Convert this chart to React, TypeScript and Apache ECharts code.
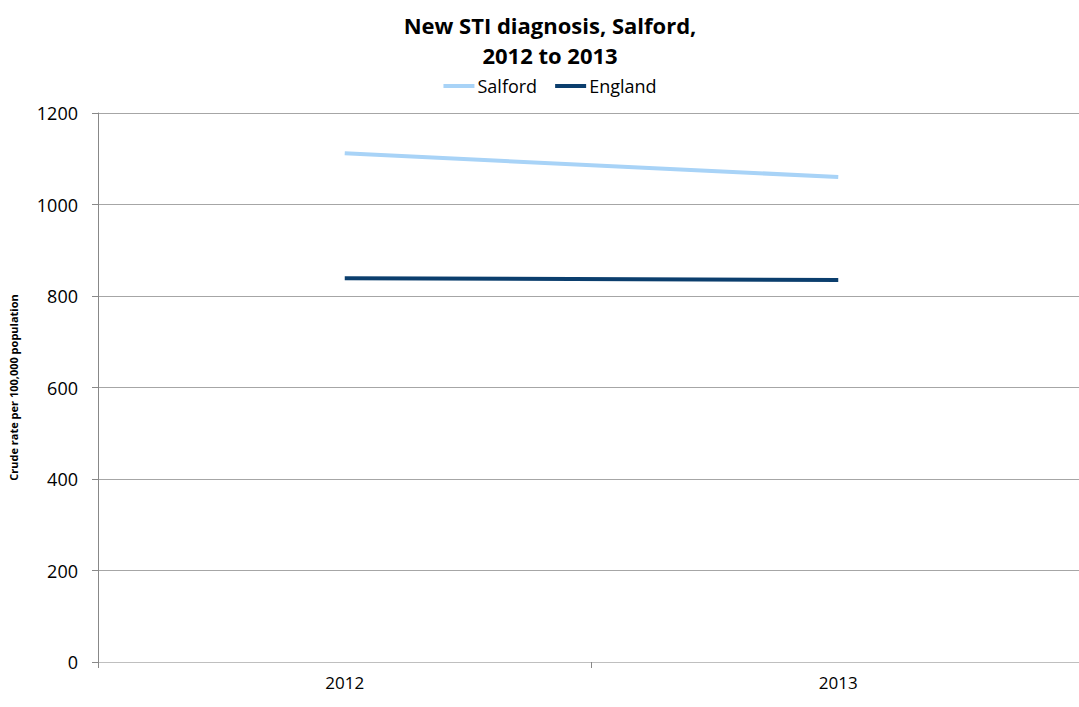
import React, { useEffect, useRef } from "react";
import * as echarts from "echarts";

const categories = ["2012", "2013"];
const salford = [1112, 1060];
const england = [839, 835];
const yTicks = { min: 0, max: 1200, interval: 200 };

export default function App() {
  const ref = useRef<HTMLDivElement>(null);
  useEffect(() => {
    document.body.style.margin = "0";
    document.body.style.overflow = "hidden";
    const chart = echarts.init(ref.current!, null, { renderer: "svg" });
    const font = "'Open Sans', sans-serif";
    chart.setOption({
      animation: false,
      textStyle: { fontFamily: font },
      title: {
        text: "New STI diagnosis, Salford,\n2012 to 2013",
        left: "center",
        top: 5,
        textStyle: { fontSize: 22, fontWeight: "bold", color: "#000", lineHeight: 30, fontFamily: font },
      },
      legend: {
        top: 72,
        left: "center",
        itemWidth: 31,
        itemHeight: 4,
        itemGap: 18,
        icon: "rect",
        textStyle: { fontSize: 18, color: "#000", fontFamily: font, padding: [0, 0, 0, -2] },
        data: [
          { name: "Salford", icon: "rect" },
          { name: "England", icon: "rect" },
        ],
      },
      grid: { left: 96, right: 15, top: 113, bottom: 45 },
      xAxis: {
        type: "category",
        data: categories,
        boundaryGap: true,
        axisLine: { lineStyle: { color: "#bfbfbf", width: 1 } },
        axisTick: { show: true, length: 6, lineStyle: { color: "#888" } },
        axisLabel: { fontSize: 17, color: "#000", margin: 12, fontFamily: font },
      },
      yAxis: {
        type: "value",
        min: yTicks.min,
        max: yTicks.max,
        interval: yTicks.interval,
        name: "Crude rate per 100,000 population",
        nameLocation: "middle",
        nameGap: 79,
        nameTextStyle: { fontSize: 11, fontWeight: "bold", color: "#000", fontFamily: font },
        axisLine: { show: true, lineStyle: { color: "#888" } },
        axisTick: { show: true, length: 6, lineStyle: { color: "#888" } },
        axisLabel: {
          fontSize: 18,
          color: "#000",
          margin: 20,
          fontFamily: font,
          formatter: (v: number) => String(v),
        },
        splitLine: { lineStyle: { color: "#a6a6a6" } },
      },
      series: [
        {
          name: "Salford",
          type: "line",
          data: salford,
          showSymbol: false,
          symbol: "none",
          lineStyle: { color: "#a8d3f7", width: 4 },
          itemStyle: { color: "#a8d3f7" },
        },
        {
          name: "England",
          type: "line",
          data: england,
          showSymbol: false,
          symbol: "none",
          lineStyle: { color: "#0b3e6d", width: 4 },
          itemStyle: { color: "#0b3e6d" },
        },
      ],
    });
    return () => chart.dispose();
  }, []);
  return <div ref={ref} style={{ width: 1100, height: 707 }} />;
}
